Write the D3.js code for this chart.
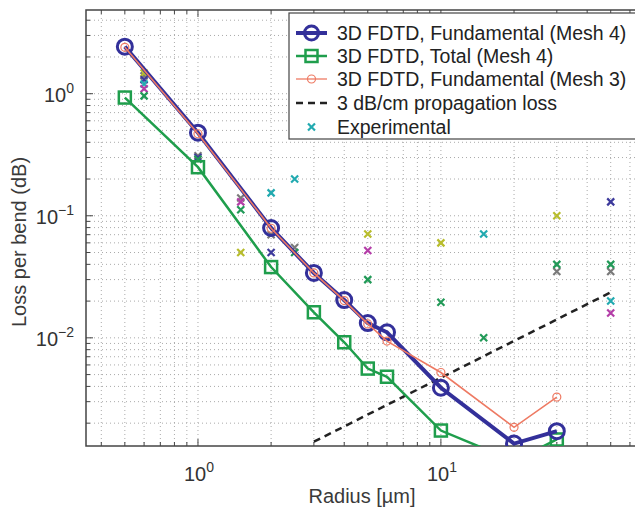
<!DOCTYPE html>
<html>
<head>
	<title>Bend loss</title>
	<style>
	body {
	  margin: 0;
	  background: #fff;
	  font-family: "Liberation Sans", Arial, sans-serif;
	}
	.grid line {
	  stroke: #aaa;
	  stroke-width: 1;
	  stroke-dasharray: 1,3;
	}
	</style>
	<script src="https://d3js.org/d3.v7.min.js"></script>
</head>
<body>
	<script>
		var radius = [0.5, 1, 2, 3, 4, 5, 6, 10, 20, 30];
		var fundMesh4 = [2.43, 0.479, 0.0794, 0.034, 0.0204, 0.0132, 0.0111, 0.0039, 0.00136, 0.00172];
		var totalMesh4 = [0.93, 0.25, 0.038, 0.0162, 0.0092, 0.0056, 0.0048, 0.00174, 0.00098, 0.00147];
		var fundMesh3 = [2.4, 0.47, 0.079, 0.034, 0.0202, 0.013, 0.0094, 0.0052, 0.00185, 0.00327];

		var propRadius = [3, 50];
		var propLoss = [0.00141, 0.0236];

		var expYellowR = [0.6, 1.5, 5, 10, 30];
		var expYellow = [1.48, 0.05, 0.071, 0.06, 0.1];
		var expMagentaR = [0.6, 1.5, 5, 50];
		var expMagenta = [1.1, 0.13, 0.052, 0.016];
		var expNavyR = [0.6, 1, 2, 50];
		var expNavy = [1.3, 0.3, 0.05, 0.13];
		var expCyanR = [0.6, 2, 2.5, 15, 50];
		var expCyan = [1.2, 0.154, 0.2, 0.071, 0.02];
		var expGreenR = [0.6, 1, 1.5, 2.5, 5, 10, 15, 30, 50];
		var expGreen = [0.96, 0.29, 0.112, 0.05, 0.03, 0.0196, 0.01, 0.04, 0.04];
		var expGrayR = [0.6, 1, 1.5, 2, 2.5, 30, 50];
		var expGray = [1.4, 0.31, 0.14, 0.07, 0.055, 0.035, 0.035];

		var legendLabels = ["3D FDTD, Fundamental (Mesh 4)", "3D FDTD, Total (Mesh 4)",
			"3D FDTD, Fundamental (Mesh 3)", "3 dB/cm propagation loss", "Experimental"];
		var xTickExp = [0, 1];
		var yTickExp = [0, -1, -2];

		var W = 635, H = 510;
		var pL = 86, pT = 10, pR = 640, pB = 446;

		var x = d3.scaleLog().domain([0.346, 66]).range([pL, pR]);
		var y = d3.scaleLog().domain([0.0013, 4.85]).range([pB, pT]);

		var blue = "#33309a", green = "#1f9e4c", red = "#ee7a63";

		var svg = d3.select("body").append("svg")
		    .attr("width", W)
		    .attr("height", H);

		svg.append("defs").append("clipPath")
		    .attr("id", "clip")
		  .append("rect")
		    .attr("x", pL).attr("y", pT)
		    .attr("width", pR - pL).attr("height", pB - pT);

		function minorTicks(scale) {
			var d = scale.domain(), out = [];
			for (var e = -4; e <= 2; e++) {
				for (var k = 1; k < 10; k++) {
					var v = k * Math.pow(10, e);
					if (v >= d[0] && v <= d[1]) out.push(v);
				}
			}
			return out;
		}
		var xt = minorTicks(x), yt = minorTicks(y);

		var grid = svg.append("g").attr("class", "grid");
		grid.selectAll(".gx").data(xt).enter().append("line")
		    .attr("x1", function(d) { return x(d); })
		    .attr("x2", function(d) { return x(d); })
		    .attr("y1", pT).attr("y2", pB);
		grid.selectAll(".gy").data(yt).enter().append("line")
		    .attr("y1", function(d) { return y(d); })
		    .attr("y2", function(d) { return y(d); })
		    .attr("x1", pL).attr("x2", pR);

		function isMajor(v) {
			var l = Math.log10(v);
			return Math.abs(l - Math.round(l)) < 1e-6;
		}

		var ticks = svg.append("g").attr("stroke", "#444").attr("stroke-width", 1);
		xt.forEach(function(v) {
			var len = isMajor(v) ? 7 : 4;
			ticks.append("line").attr("x1", x(v)).attr("x2", x(v)).attr("y1", pB).attr("y2", pB - len);
			ticks.append("line").attr("x1", x(v)).attr("x2", x(v)).attr("y1", pT).attr("y2", pT + len);
		});
		yt.forEach(function(v) {
			var len = isMajor(v) ? 7 : 4;
			ticks.append("line").attr("y1", y(v)).attr("y2", y(v)).attr("x1", pL).attr("x2", pL + len);
		});

		svg.append("rect")
		    .attr("x", pL).attr("y", pT)
		    .attr("width", pR - pL).attr("height", pB - pT)
		    .attr("fill", "none")
		    .attr("stroke", "#444")
		    .attr("stroke-width", 1.5);

		function powLabel(g, tx, ty, e, anchor) {
			var t = g.append("text")
			    .attr("x", tx).attr("y", ty)
			    .attr("text-anchor", anchor)
			    .attr("font-size", 20)
			    .attr("fill", "#333");
			t.append("tspan").text("10");
			t.append("tspan").attr("dy", -9).attr("font-size", 14).text(e < 0 ? "\u2212" + (-e) : e);
		}
		xTickExp.forEach(function(e) {
			powLabel(svg, x(Math.pow(10, e)) + 1, 481, e, "middle");
		});
		yTickExp.forEach(function(e) {
			powLabel(svg, 74, y(Math.pow(10, e)) + 8, e, "end");
		});

		svg.append("text")
		    .attr("x", 362).attr("y", 503)
		    .attr("text-anchor", "middle")
		    .attr("font-size", 20)
		    .attr("fill", "#3a3a3a")
		    .text("Radius [\u00b5m]");
		svg.append("text")
		    .attr("transform", "translate(26," + ((pT + pB) / 2 + 14) + ") rotate(-90)")
		    .attr("text-anchor", "middle")
		    .attr("font-size", 20)
		    .attr("fill", "#3a3a3a")
		    .text("Loss per bend (dB)");

		var plot = svg.append("g").attr("clip-path", "url(#clip)");

		var line = d3.line()
		    .x(function(d) { return x(d[0]); })
		    .y(function(d) { return y(d[1]); });

		function zip(a, b) { return a.map(function(v, i) { return [v, b[i]]; }); }

		function cross(g, px, py, s, color) {
			g.append("path")
			    .attr("d", "M" + (px - s) + "," + (py - s) + "L" + (px + s) + "," + (py + s) +
			        "M" + (px - s) + "," + (py + s) + "L" + (px + s) + "," + (py - s))
			    .attr("stroke", color)
			    .attr("stroke-width", 2.2)
			    .attr("fill", "none");
		}

		var expSets = [
			[expGrayR, expGray, "#7a7a7a"],
			[expYellowR, expYellow, "#b8bd2c"],
			[expNavyR, expNavy, "#3d3a9c"],
			[expCyanR, expCyan, "#22aab0"],
			[expMagentaR, expMagenta, "#b43ea8"],
			[expGreenR, expGreen, "#229a58"]
		];
		expSets.forEach(function(s) {
			zip(s[0], s[1]).forEach(function(d) {
				cross(plot, x(d[0]), y(d[1]), 3.5, s[2]);
			});
		});

		plot.append("path")
		    .attr("d", line(zip(propRadius, propLoss)))
		    .attr("fill", "none")
		    .attr("stroke", "#222")
		    .attr("stroke-width", 2.5)
		    .attr("stroke-dasharray", "7,5");

		var totalData = zip(radius, totalMesh4);
		plot.append("path")
		    .attr("d", line(totalData))
		    .attr("fill", "none")
		    .attr("stroke", green)
		    .attr("stroke-width", 2.5);
		plot.selectAll(".sq").data(totalData).enter().append("rect")
		    .attr("x", function(d) { return x(d[0]) - 6; })
		    .attr("y", function(d) { return y(d[1]) - 6; })
		    .attr("width", 12).attr("height", 12)
		    .attr("fill", "none")
		    .attr("stroke", green)
		    .attr("stroke-width", 2.5);

		var fundData = zip(radius, fundMesh4);
		plot.append("path")
		    .attr("d", line(fundData))
		    .attr("fill", "none")
		    .attr("stroke", blue)
		    .attr("stroke-width", 4);
		plot.selectAll(".ci").data(fundData).enter().append("circle")
		    .attr("cx", function(d) { return x(d[0]); })
		    .attr("cy", function(d) { return y(d[1]); })
		    .attr("r", 7.5)
		    .attr("fill", "none")
		    .attr("stroke", blue)
		    .attr("stroke-width", 3);

		var m3Data = zip(radius, fundMesh3);
		plot.append("path")
		    .attr("d", line(m3Data))
		    .attr("fill", "none")
		    .attr("stroke", red)
		    .attr("stroke-width", 1.6);
		plot.selectAll(".rc").data(m3Data).enter().append("circle")
		    .attr("cx", function(d) { return x(d[0]); })
		    .attr("cy", function(d) { return y(d[1]); })
		    .attr("r", 4)
		    .attr("fill", "none")
		    .attr("stroke", red)
		    .attr("stroke-width", 1.2);

		// legend
		var lg = svg.append("g");
		lg.append("rect")
		    .attr("x", 289).attr("y", 13)
		    .attr("width", 360).attr("height", 126)
		    .attr("fill", "#fff")
		    .attr("stroke", "#444")
		    .attr("stroke-width", 1.2);
		var rowY = [33, 56, 79, 103, 127];
		var lx0 = 296, lx1 = 327, lxm = 311.5;
		legendLabels.forEach(function(t, i) {
			lg.append("text")
			    .attr("x", 337).attr("y", rowY[i] + 7)
			    .attr("font-size", 19.5)
			    .attr("fill", "#222")
			    .text(t);
		});
		lg.append("line").attr("x1", lx0).attr("x2", lx1).attr("y1", rowY[0]).attr("y2", rowY[0])
		    .attr("stroke", blue).attr("stroke-width", 4);
		lg.append("circle").attr("cx", lxm).attr("cy", rowY[0]).attr("r", 7)
		    .attr("fill", "none").attr("stroke", blue).attr("stroke-width", 3);
		lg.append("line").attr("x1", lx0).attr("x2", lx1).attr("y1", rowY[1]).attr("y2", rowY[1])
		    .attr("stroke", green).attr("stroke-width", 2.5);
		lg.append("rect").attr("x", lxm - 6).attr("y", rowY[1] - 6).attr("width", 12).attr("height", 12)
		    .attr("fill", "none").attr("stroke", green).attr("stroke-width", 2.5);
		lg.append("line").attr("x1", lx0).attr("x2", lx1).attr("y1", rowY[2]).attr("y2", rowY[2])
		    .attr("stroke", red).attr("stroke-width", 1.3);
		lg.append("circle").attr("cx", lxm).attr("cy", rowY[2]).attr("r", 4)
		    .attr("fill", "none").attr("stroke", red).attr("stroke-width", 1.2);
		lg.append("line").attr("x1", lx0).attr("x2", lx1).attr("y1", rowY[3]).attr("y2", rowY[3])
		    .attr("stroke", "#222").attr("stroke-width", 2.5).attr("stroke-dasharray", "7,5");
		cross(lg, lxm, rowY[4], 3.5, "#22aab0");
	</script>
</body>
</html>
